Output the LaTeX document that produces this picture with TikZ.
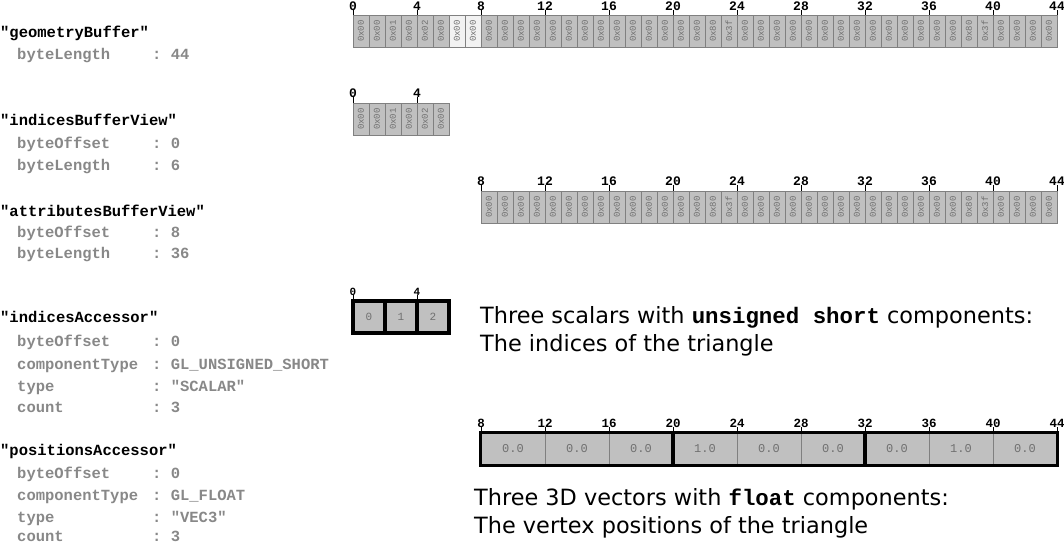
\documentclass[tikz,border=0pt]{standalone}
\usepackage{fontspec}
\setmainfont{DejaVu Sans}
\setmonofont{Liberation Mono}
\definecolor{cellfill}{HTML}{C0C0C0}
\definecolor{celldraw}{HTML}{808080}
\definecolor{hlfill}{HTML}{F2F2F2}
\definecolor{celltext}{HTML}{707070}
\definecolor{keytext}{HTML}{888888}
\tikzset{
  bytecell/.style={draw=celldraw, fill=cellfill, line width=0.8pt, minimum width=32pt, minimum height=16pt, rotate=90, inner sep=0pt, font=\ttfamily\fontsize{9}{9}\selectfont, text=celltext},
  hlcell/.style={bytecell, fill=hlfill},
  ticklbl/.style={anchor=base, inner sep=0pt, font=\ttfamily\bfseries\fontsize{13}{13}\selectfont},
  smallticklbl/.style={anchor=base, inner sep=0pt, font=\ttfamily\bfseries\fontsize{11}{11}\selectfont},
  tickline/.style={line width=0.8pt},
  idxcell/.style={draw=black, fill=cellfill, line width=3.5pt, minimum width=32pt, minimum height=32pt, inner sep=0pt, font=\ttfamily\fontsize{11}{11}\selectfont, text=celltext},
  fltcell/.style={draw=celldraw, fill=cellfill, line width=0.8pt, minimum width=64pt, minimum height=32pt, inner sep=0pt, font=\ttfamily\fontsize{12}{12}\selectfont, text=celltext},
  groupbox/.style={draw=black, line width=3.5pt},
  hdr/.style={anchor=base west, inner sep=0pt, font=\ttfamily\bfseries\fontsize{15.5}{18}\selectfont, text=black},
  keyt/.style={anchor=base west, inner sep=0pt, font=\ttfamily\bfseries\fontsize{15.5}{18}\selectfont, text=keytext},
  desc/.style={anchor=base west, inner sep=0pt, font=\fontsize{22.4}{26}\selectfont},
}
\begin{document}
\begin{tikzpicture}[x=1pt,y=-1pt]
\useasboundingbox (0,0) rectangle (1064,544);
% ---------- left text ----------
\node[hdr] (h1) at (0,37) {"geometryBuffer"};
\node[keyt] (k1a) at (17,59) {byteLength};
\node[keyt] (v1a) at (152,59) {: 44};
\node[hdr] (h2) at (0,125) {"indicesBufferView"};
\node[keyt] (k2a) at (17,148) {byteOffset};
\node[keyt] (v2a) at (152,148) {: 0};
\node[keyt] (k2b) at (17,170) {byteLength};
\node[keyt] (v2b) at (152,170) {: 6};
\node[hdr] (h3) at (0,216) {"attributesBufferView"};
\node[keyt] (k3a) at (17,237) {byteOffset};
\node[keyt] (v3a) at (152,237) {: 8};
\node[keyt] (k3b) at (17,258) {byteLength};
\node[keyt] (v3b) at (152,258) {: 36};
\node[hdr] (h4) at (0,322) {"indicesAccessor"};
\node[keyt] (k4a) at (17,346) {byteOffset};
\node[keyt] (v4a) at (152,346) {: 0};
\node[keyt] (k4b) at (17,369) {componentType};
\node[keyt] (v4b) at (152,369) {: GL\_UNSIGNED\_SHORT};
\node[keyt] (k4c) at (17,391) {type};
\node[keyt] (v4c) at (152,391) {: "SCALAR"};
\node[keyt] (k4d) at (17,412) {count};
\node[keyt] (v4d) at (152,412) {: 3};
\node[hdr] (h5) at (0,455) {"positionsAccessor"};
\node[keyt] (k5a) at (17,478) {byteOffset};
\node[keyt] (v5a) at (152,478) {: 0};
\node[keyt] (k5b) at (17,500) {componentType};
\node[keyt] (v5b) at (152,500) {: GL\_FLOAT};
\node[keyt] (k5c) at (17,522) {type};
\node[keyt] (v5c) at (152,522) {: "VEC3"};
\node[keyt] (k5d) at (17,541) {count};
\node[keyt] (v5d) at (152,541) {: 3};
% ---------- geometry buffer ----------
\foreach \v [count=\n from 0] in {00,00,01,00,02,00,00,00,00,00,00,00,00,00,00,00,00,00,00,00,00,00,80,3f,00,00,00,00,00,00,00,00,00,00,00,00,00,00,80,3f,00,00,00,00}{
  \ifnum\n=6 \def\sty{hlcell}\else\ifnum\n=7 \def\sty{hlcell}\else\def\sty{bytecell}\fi\fi
  \node[\sty] (g\n) at ({353+16*\n+8},31) {0x\v};
}
\foreach \k in {0,4,...,44}{
  \node[ticklbl] (gt\k) at ({353+16*\k},10) {\k};
  \draw[tickline] (gt\k.base) -- ++(0,5);
}
% ---------- indices buffer view ----------
\foreach \v [count=\n from 0] in {00,00,01,00,02,00}{
  \node[bytecell] (ib\n) at ({353+16*\n+8},119) {0x\v};
}
\foreach \k in {0,4}{
  \node[ticklbl] (it\k) at ({353+16*\k},97) {\k};
  \draw[tickline] (it\k.base) -- ++(0,6);
}
% ---------- attributes buffer view ----------
\foreach \v [count=\n from 8] in {00,00,00,00,00,00,00,00,00,00,00,00,00,00,80,3f,00,00,00,00,00,00,00,00,00,00,00,00,00,00,80,3f,00,00,00,00}{
  \node[bytecell] (ab\n) at ({353+16*\n+8},207) {0x\v};
}
\foreach \k in {8,12,...,44}{
  \node[ticklbl] (at\k) at ({353+16*\k},185) {\k};
  \draw[tickline] (at\k.base) -- ++(0,6);
}
% ---------- indices accessor ----------
\foreach \v [count=\n from 0] in {0,1,2}{
  \node[idxcell] (ia\n) at ({353+32*\n+16},317) {\v};
}
\foreach \k in {0,4}{
  \node[smallticklbl] (iat\k) at ({353+16*\k},295) {\k};
  \draw[tickline] (iat\k.base) -- ++(0,5);
}
% ---------- positions accessor ----------
\foreach \v [count=\n from 0] in {0.0,0.0,0.0,1.0,0.0,0.0,0.0,1.0,0.0}{
  \node[fltcell] (pa\n) at ({481+64*\n+32},449) {\v};
}
\draw[groupbox] (pa0.north west) rectangle (pa2.south east);
\draw[groupbox] (pa3.north west) rectangle (pa5.south east);
\draw[groupbox] (pa6.north west) rectangle (pa8.south east);
\foreach \k in {8,12,...,44}{
  \node[ticklbl, font=\ttfamily\bfseries\fontsize{12.5}{12.5}\selectfont] (pt\k) at ({353+16*\k},427) {\k};
  \draw[tickline] (pt\k.base) -- ++(0,6);
}
% ---------- descriptions ----------
\node[desc] (d1) at (480,323) {Three scalars with {\ttfamily\bfseries unsigned short} components:};
\node[desc] (d2) at (480,351) {The indices of the triangle};
\node[desc] (d3) at (474,505) {Three 3D vectors with {\ttfamily\bfseries float} components:};
\node[desc] (d4) at (474,533) {The vertex positions of the triangle};
\end{tikzpicture}
\end{document}
